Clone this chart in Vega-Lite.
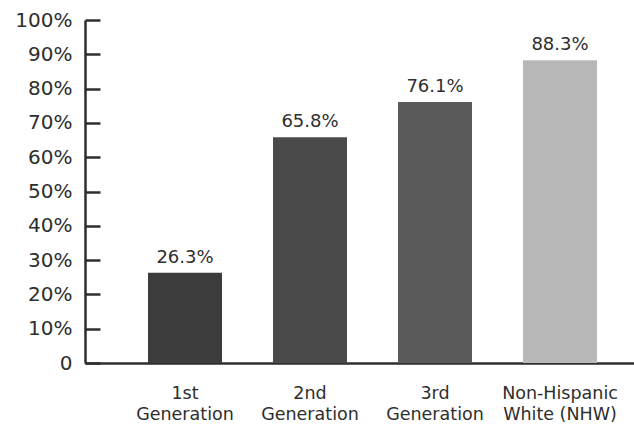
{
  "$schema": "https://vega.github.io/schema/vega-lite/v6.json",
  "width": 549,
  "height": 343,
  "autosize": "none",
  "padding": {"left": 85, "top": 20, "right": 0, "bottom": 64},
  "background": "white",
  "config": {
    "view": {"stroke": null},
    "font": "DejaVu Sans"
  },
  "data": {
    "values": [
      {"group": "1st Generation", "pct": 26.3},
      {"group": "2nd Generation", "pct": 65.8},
      {"group": "3rd Generation", "pct": 76.1},
      {"group": "Non-Hispanic White (NHW)", "pct": 88.3}
    ]
  },
  "transform": [
    {"calculate": "format(datum.pct, '.1f') + '%'", "as": "label"}
  ],
  "encoding": {
    "x": {
      "field": "group",
      "type": "nominal",
      "sort": null,
      "scale": {"paddingInner": 0.408, "paddingOuter": 0.4, "align": 0.63},
      "axis": {
        "title": null,
        "labelAngle": 0,
        "ticks": false,
        "domainColor": "#2e2e2e",
        "domainWidth": 2.5,
        "labelColor": "#2e2e2e",
        "labelFontSize": 17.5,
        "labelPadding": 30,
        "labelLineHeight": 21.5,
        "labelBaseline": "middle",
        "labelExpr": "datum.value == 'Non-Hispanic White (NHW)' ? ['Non-Hispanic', 'White (NHW)'] : split(datum.value, ' ')"
      }
    },
    "y": {
      "field": "pct",
      "type": "quantitative",
      "scale": {"domain": [0, 100]},
      "axis": {
        "title": null,
        "values": [0, 10, 20, 30, 40, 50, 60, 70, 80, 90, 100],
        "grid": false,
        "domainColor": "#2e2e2e",
        "domainWidth": 2.5,
        "tickColor": "#2e2e2e",
        "tickWidth": 2.5,
        "tickSize": -15,
        "labelPadding": 28,
        "labelColor": "#2e2e2e",
        "labelFontSize": 20,
        "labelExpr": "datum.value == 0 ? '0' : datum.value + '%'"
      }
    }
  },
  "layer": [
    {
      "mark": {"type": "bar"},
      "encoding": {
        "color": {
          "field": "group",
          "type": "nominal",
          "legend": null,
          "scale": {
            "domain": ["1st Generation", "2nd Generation", "3rd Generation", "Non-Hispanic White (NHW)"],
            "range": ["#3c3c3c", "#4a4a4a", "#5a5a5a", "#b8b8b8"]
          }
        }
      }
    },
    {
      "mark": {"type": "text", "baseline": "bottom", "dy": -6, "fontSize": 18, "color": "#2e2e2e"},
      "encoding": {
        "text": {"field": "label", "type": "nominal"}
      }
    }
  ]
}
